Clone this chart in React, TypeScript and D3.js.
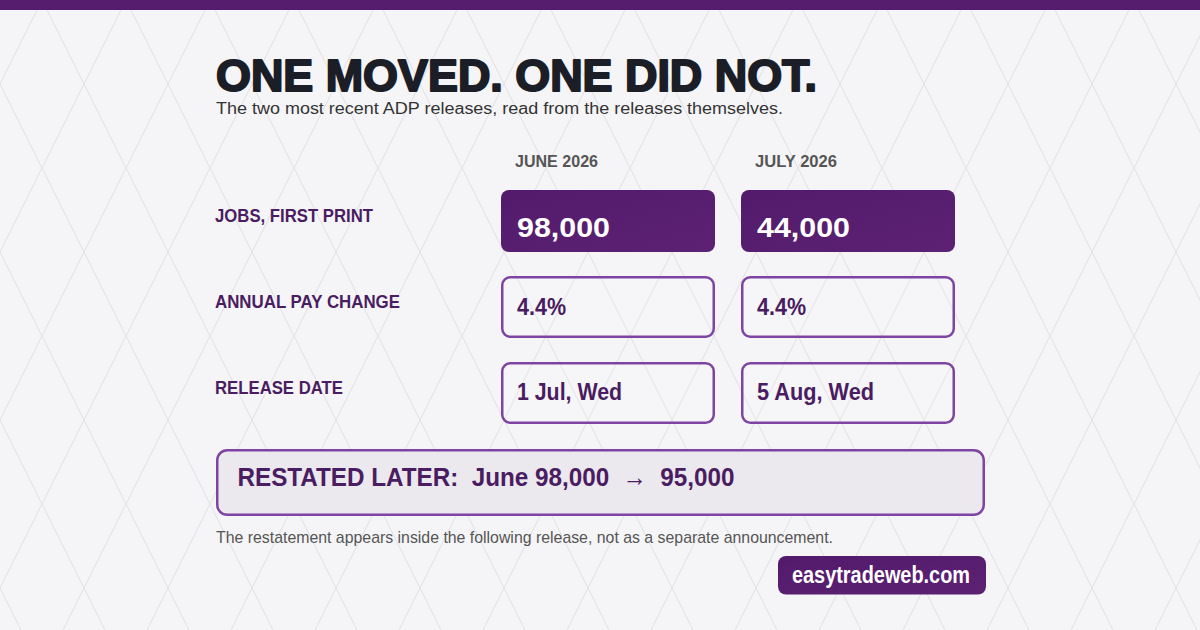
import * as d3 from "d3";
import React, {useEffect, useRef} from "react";

const months = ["JUNE 2026", "JULY 2026"];
const rowLabels = ["JOBS, FIRST PRINT", "ANNUAL PAY CHANGE", "RELEASE DATE"];
const jobsFirstPrint = [98000, 44000];
const annualPayChange = [4.4, 4.4];
const releaseDates = ["1 Jul, Wed", "5 Aug, Wed"];
const restatedMonth = "June";
const restatedJobs = [98000, 95000]; // first print -> restated

const title = "ONE MOVED. ONE DID NOT.";
const subtitle = "The two most recent ADP releases, read from the releases themselves.";
const footnote = "The restatement appears inside the following release, not as a separate announcement.";
const badge = "easytradeweb.com";

const W = 1200;
const H = 630;
const PURPLE = "#561d6e";
const OUTLINE = "#7e44a3";
const INK = "#4a1c62";
const FONT = "'Liberation Sans', Arial, sans-serif";

// widths the text is squeezed / stretched to, measured on the reference
const textWidths: Record<string, number> = {
  "JUNE 2026": 83,
  "JULY 2026": 82,
  "JOBS, FIRST PRINT": 158,
  "ANNUAL PAY CHANGE": 185,
  "RELEASE DATE": 128,
  "98,000": 93,
  "44,000": 93,
  "4.4%": 49,
  "1 Jul, Wed": 105,
  "5 Aug, Wed": 117,
};

const fmt = d3.format(",");

const App: React.FC = () => {
  const ref = useRef<SVGSVGElement | null>(null);

  useEffect(() => {
    document.body.style.margin = "0";
    const svg = d3.select(ref.current);
    svg.selectAll("*").remove();

    const defs = svg.append("defs");
    const pat = defs
      .append("pattern")
      .attr("id", "lattice")
      .attr("patternUnits", "userSpaceOnUse")
      .attr("width", 84)
      .attr("height", 168);
    pat
      .append("path")
      .attr("d", "M42,0L84,84L42,168L0,84Z")
      .attr("fill", "none")
      .attr("stroke", "#e0e0e4")
      .attr("stroke-width", 1);

    const grad = defs
      .append("linearGradient")
      .attr("id", "darkFill")
      .attr("x1", 0).attr("y1", 0).attr("x2", 1).attr("y2", 1);
    grad.append("stop").attr("offset", "0%").attr("stop-color", "#531a6b");
    grad.append("stop").attr("offset", "100%").attr("stop-color", "#5c2173");

    // background
    svg.append("rect").attr("width", W).attr("height", H).attr("fill", "#f5f5f7");
    svg.append("rect").attr("width", W).attr("height", H).attr("fill", "url(#lattice)");
    svg.append("rect").attr("width", W).attr("height", 10).attr("fill", PURPLE);

    const fit = (sel: d3.Selection<SVGTextElement, any, any, any>, w?: number) => {
      if (w) sel.attr("textLength", w).attr("lengthAdjust", "spacingAndGlyphs");
      return sel;
    };

    // headline
    fit(
      svg.append("text")
        .attr("x", 216).attr("y", 91)
        .attr("font-family", FONT).attr("font-weight", 900).attr("font-size", 44)
        .attr("fill", "#1b1e27").attr("stroke", "#1b1e27").attr("stroke-width", 2)
        .attr("stroke-linejoin", "round")
        .text(title),
      601
    );
    fit(
      svg.append("text")
        .attr("x", 216).attr("y", 114)
        .attr("font-family", FONT).attr("font-size", 16)
        .attr("fill", "#333")
        .text(subtitle),
      567
    );

    const xScale = d3.scaleBand<string>()
      .domain(months)
      .range([501, 955])
      .paddingInner(26 / 240);

    const yScale = d3.scaleBand<string>()
      .domain(rowLabels)
      .range([190, 424])
      .paddingInner(24 / 86);

    // column headers
    svg.selectAll(".col-head")
      .data(months)
      .enter()
      .append("text")
      .attr("class", "col-head")
      .attr("x", (d) => (xScale(d) ?? 0) + 14)
      .attr("y", 167)
      .attr("font-family", FONT).attr("font-weight", 700).attr("font-size", 17)
      .attr("fill", "#555")
      .attr("textLength", (d) => textWidths[d])
      .attr("lengthAdjust", "spacingAndGlyphs")
      .text((d) => d);

    // row labels
    svg.selectAll(".row-label")
      .data(rowLabels)
      .enter()
      .append("text")
      .attr("class", "row-label")
      .attr("x", 215)
      .attr("y", (d) => (yScale(d) ?? 0) + 32)
      .attr("font-family", FONT).attr("font-weight", 700).attr("font-size", 18.5)
      .attr("fill", INK)
      .attr("textLength", (d) => textWidths[d])
      .attr("lengthAdjust", "spacingAndGlyphs")
      .text((d) => d);

    const rowValues: string[][] = [
      jobsFirstPrint.map((v) => fmt(v)),
      annualPayChange.map((v) => d3.format(".1f")(v) + "%"),
      releaseDates,
    ];

    const cells = rowLabels.flatMap((row, r) =>
      months.map((m, c) => ({row, month: m, r, text: rowValues[r][c]}))
    );

    const bw = xScale.bandwidth();
    const bh = yScale.bandwidth();

    const cellGroups = svg.selectAll(".cell")
      .data(cells)
      .enter()
      .append("g")
      .attr("class", "cell")
      .attr("transform", (d) => `translate(${xScale(d.month)}, ${yScale(d.row)})`);

    cellGroups
      .append("rect")
      .attr("x", (d) => (d.r === 0 ? 0 : 1.25))
      .attr("y", (d) => (d.r === 0 ? 0 : 1.25))
      .attr("width", (d) => (d.r === 0 ? bw : bw - 2.5))
      .attr("height", (d) => (d.r === 0 ? bh : bh - 2.5))
      .attr("rx", 8)
      .attr("fill", (d) => (d.r === 0 ? "url(#darkFill)" : "rgba(255,255,255,0.12)"))
      .attr("stroke", (d) => (d.r === 0 ? "none" : OUTLINE))
      .attr("stroke-width", 2.5);

    cellGroups
      .append("text")
      .attr("x", 16)
      .attr("y", (d) => (d.r === 0 ? 47 : d.r === 1 ? 39 : 38))
      .attr("font-family", FONT).attr("font-weight", 700)
      .attr("font-size", (d) => (d.r === 0 ? 27 : 23))
      .attr("fill", (d) => (d.r === 0 ? "#ffffff" : INK))
      .attr("textLength", (d) => textWidths[d.text])
      .attr("lengthAdjust", "spacingAndGlyphs")
      .text((d) => d.text);

    // restatement strip
    svg.append("rect")
      .attr("x", 217.25).attr("y", 450.25)
      .attr("width", 766.5).attr("height", 64.5)
      .attr("rx", 10)
      .attr("fill", "#ebe8ee")
      .attr("stroke", OUTLINE).attr("stroke-width", 2.5);

    fit(
      svg.append("text")
        .attr("x", 237.5).attr("y", 485.5)
        .attr("font-family", FONT).attr("font-weight", 700).attr("font-size", 26)
        .attr("fill", INK)
        .style("white-space", "pre")
        .text(`RESTATED LATER:  ${restatedMonth} ${fmt(restatedJobs[0])}  \u2192  ${fmt(restatedJobs[1])}`),
      497
    );

    fit(
      svg.append("text")
        .attr("x", 216).attr("y", 542.5)
        .attr("font-family", FONT).attr("font-size", 17)
        .attr("fill", "#555")
        .text(footnote),
      617
    );

    // badge
    svg.append("rect")
      .attr("x", 778).attr("y", 556)
      .attr("width", 208).attr("height", 38.5)
      .attr("rx", 8)
      .attr("fill", "url(#darkFill)");
    fit(
      svg.append("text")
        .attr("x", 792).attr("y", 583.3)
        .attr("font-family", FONT).attr("font-weight", 700).attr("font-size", 23)
        .attr("fill", "#ffffff")
        .text(badge),
      178
    );

    return () => {
      svg.selectAll("*").remove();
    };
  }, []);

  return <svg ref={ref} width={W} height={H} style={{display: "block"}} />;
};

export default App;
